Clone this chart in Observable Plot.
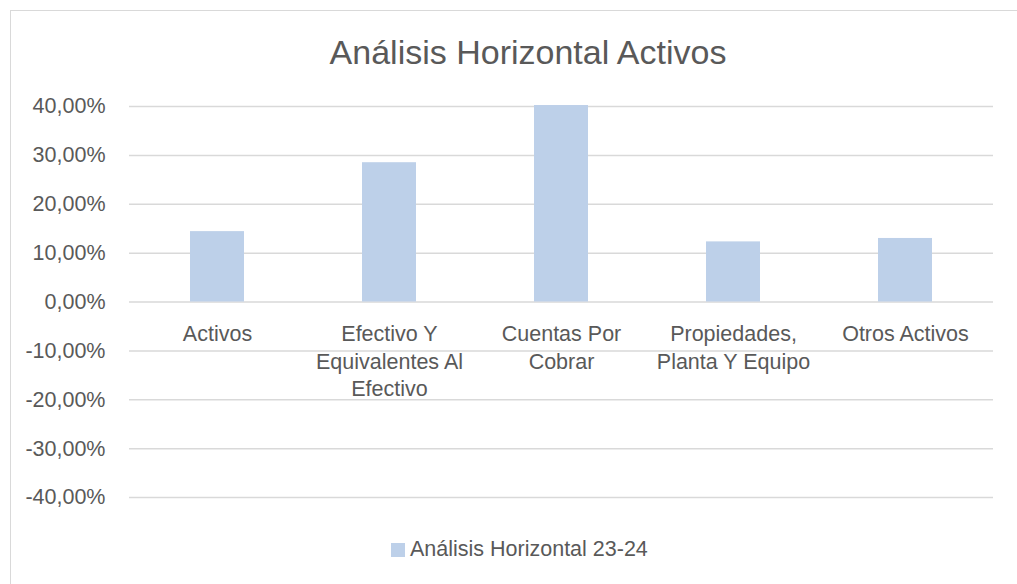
<!DOCTYPE html>
<html>
<head>
<meta charset="utf-8">
<script src="https://cdn.jsdelivr.net/npm/d3@7"></script>
<script src="https://cdn.jsdelivr.net/npm/@observablehq/plot@0.6"></script>
<style>
  html, body { margin: 0; padding: 0; background: #fff; }
  body { width: 1017px; height: 584px; overflow: hidden; position: relative; font-family: "Liberation Sans", Arial, sans-serif; color: #595959; }
  #frame { position: absolute; left: 10px; top: 10px; width: 1040px; height: 600px; border: 1px solid #d9d9d9; box-sizing: border-box; }
  #title { position: absolute; left: 0; width: 1056px; top: 32px; text-align: center; font-size: 34px; line-height: 40px; color: #595959; }
  #chart { position: absolute; left: 0; top: 80px; }
  #legend { position: absolute; left: 391px; top: 537px; display: flex; align-items: center; font-size: 21.5px; color: #595959; }
  #legend .sw { width: 14px; height: 14px; background: #bdd0e9; margin-right: 5px; }
</style>
</head>
<body>
<div id="frame"></div>
<div id="title">Análisis Horizontal Activos</div>
<div id="chart"></div>
<div id="legend"><span class="sw"></span><span id="legendText"></span></div>
<script>
const categories = ["Activos", "Efectivo Y Equivalentes Al Efectivo", "Cuentas Por Cobrar", "Propiedades, Planta Y Equipo", "Otros Activos"];
const tickLabels = ["Activos", "Efectivo Y\nEquivalentes Al\nEfectivo", "Cuentas Por\nCobrar", "Propiedades,\nPlanta Y Equipo", "Otros Activos"];
const values = [0.144, 0.285, 0.402, 0.123, 0.130];
const yTicks = [-0.4, -0.3, -0.2, -0.1, 0, 0.1, 0.2, 0.3, 0.4];
const seriesName = "Análisis Horizontal 23-24";

document.getElementById("legendText").textContent = seriesName;

const locale = d3.formatLocale({decimal: ",", thousands: ".", grouping: [3], currency: ["", "€"], minus: "-"});
const pct = locale.format(".2%");

const data = categories.map((c, i) => ({category: c, value: values[i], label: tickLabels[i]}));

const chart = Plot.plot({
  width: 1017,
  height: 440,
  marginTop: 26,
  marginBottom: 23,
  marginLeft: 129,
  marginRight: 24,
  style: {fontFamily: "Liberation Sans, Arial, sans-serif", fontSize: "21.5px", color: "#595959", background: "transparent"},
  x: {domain: categories, padding: 0, axis: null},
  y: {domain: [-0.4, 0.4], axis: null},
  marks: [
    Plot.ruleY(yTicks, {stroke: "#d9d9d9", strokeWidth: 1.5}),
    Plot.barY(data, {x: "category", y: "value", fill: "#bdd0e9", insetLeft: 59, insetRight: 59}),
    Plot.axisY(yTicks, {tickSize: 0, tickPadding: 24, tickFormat: pct, fill: "#595959", fontSize: 21.5, label: null}),
    Plot.text(data, {x: "category", y: () => 0, text: "label", lineAnchor: "top", dy: 19.5, lineHeight: 1.28, fill: "#595959", fontSize: 21.5})
  ]
});
document.getElementById("chart").appendChild(chart);
</script>
</body>
</html>
